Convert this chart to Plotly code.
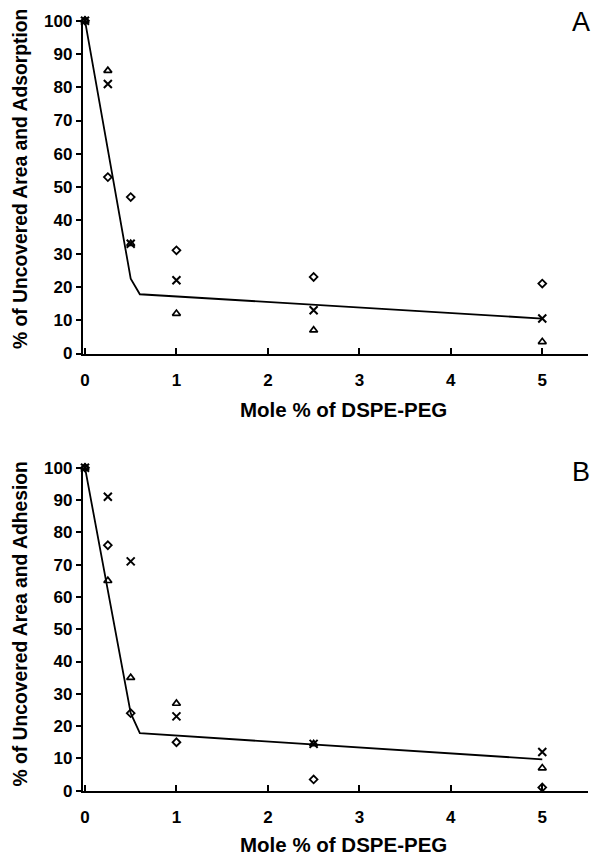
import plotly.graph_objects as go

# ---- data ----
mole_pct = [0, 0.25, 0.5, 1, 2.5, 5]

a_diamond = [100, 53, 47, 31, 23, 21]
a_cross = [100, 81, 33, 22, 13, 10.5]
a_triangle = [100, 85, 33, 12, 7, 3.5]
a_line_x = [0, 0.5, 0.6, 5]
a_line_y = [100, 22.5, 17.8, 10.5]

b_diamond = [100, 76, 24, 15, 3.5, 1]
b_cross = [100, 91, 71, 23, 14.5, 12]
b_triangle = [100, 65, 35, 27, 14.5, 7]
b_line_x = [0, 0.5, 0.6, 5]
b_line_y = [100, 24, 17.8, 9.7]

x_ticks = [0, 1, 2, 3, 4, 5]
y_ticks = list(range(0, 101, 10))

W, H = 592, 860
FONT = "Liberation Sans"


def py(p):
    return 1 - p / H


def px(p):
    return p / W


fig = go.Figure()

panels = [
    ("x", "y", a_diamond, a_cross, a_triangle, a_line_x, a_line_y),
    ("x2", "y2", b_diamond, b_cross, b_triangle, b_line_x, b_line_y),
]
for xa, ya, dia, crs, tri, lx, ly in panels:
    fig.add_trace(go.Scatter(x=lx, y=ly, mode="lines", xaxis=xa, yaxis=ya,
                             line=dict(color="black", width=1.8),
                             showlegend=False, cliponaxis=False))
    fig.add_trace(go.Scatter(x=mole_pct, y=dia, mode="markers", xaxis=xa, yaxis=ya,
                             marker=dict(symbol="diamond-open", size=6, color="black",
                                         line=dict(width=1.8)),
                             showlegend=False, cliponaxis=False))
    fig.add_trace(go.Scatter(x=mole_pct, y=crs, mode="markers", xaxis=xa, yaxis=ya,
                             marker=dict(symbol="x-thin-open", size=8, color="black",
                                         line=dict(width=2)),
                             showlegend=False, cliponaxis=False))
    fig.add_trace(go.Scatter(x=mole_pct, y=tri, mode="markers", xaxis=xa, yaxis=ya,
                             marker=dict(symbol="triangle-up-open", size=7, color="black",
                                         line=dict(width=1.7)),
                             showlegend=False, cliponaxis=False))

xdom = [px(82.7), px(588)]
ydomA = [py(353.5), py(20.7)]
ydomB = [py(790.7), py(467.7)]

tickfont = dict(family=FONT, size=17, color="black", weight="bold")

xaxis_common = dict(range=[-0.025, 5.5], tickvals=x_ticks, ticks="inside", ticklen=6,
                    tickwidth=1.5, tickcolor="black", showline=True, linecolor="black",
                    linewidth=1.8, showgrid=False, zeroline=False, tickfont=tickfont,
                    ticklabelstandoff=10, automargin=False)
yaxis_common = dict(range=[0, 100], tickvals=y_ticks, ticks="outside", ticklen=5,
                    tickwidth=1.5, tickcolor="black", showline=True, linecolor="black",
                    linewidth=1.8, showgrid=False, zeroline=False, tickfont=tickfont,
                    automargin=False)

fig.update_layout(
    width=W, height=H,
    margin=dict(l=0, r=0, t=0, b=0),
    paper_bgcolor="white", plot_bgcolor="white",
    xaxis=dict(domain=xdom, anchor="y", **xaxis_common),
    yaxis=dict(domain=ydomA, anchor="x", **yaxis_common),
    xaxis2=dict(domain=xdom, anchor="y2", **xaxis_common),
    yaxis2=dict(domain=ydomB, anchor="x2", **yaxis_common),
)

xtitle_font = dict(family=FONT, size=20.5, color="black", weight="bold")
ytitle_font = dict(family=FONT, size=19.3, color="black", weight="bold")
annotations = [
    dict(text="Mole % of DSPE-PEG", x=px(343), y=py(410), xref="paper", yref="paper",
         showarrow=False, font=xtitle_font, xanchor="center", yanchor="middle"),
    dict(text="Mole % of DSPE-PEG", x=px(343), y=py(844), xref="paper", yref="paper",
         showarrow=False, font=xtitle_font, xanchor="center", yanchor="middle"),
    dict(text="% of Uncovered Area and Adsorption", x=px(20), y=py(179), xref="paper",
         yref="paper", showarrow=False, font=ytitle_font, textangle=-90,
         xanchor="center", yanchor="middle"),
    dict(text="% of Uncovered Area and Adhesion", x=px(19.5), y=py(624), xref="paper",
         yref="paper", showarrow=False, font=ytitle_font, textangle=-90,
         xanchor="center", yanchor="middle"),
    dict(text="A", x=px(581), y=py(22), xref="paper", yref="paper", showarrow=False,
         font=dict(family=FONT, size=27, color="black"), xanchor="center", yanchor="middle"),
    dict(text="B", x=px(581), y=py(472), xref="paper", yref="paper", showarrow=False,
         font=dict(family=FONT, size=27, color="black"), xanchor="center", yanchor="middle"),
]
fig.update_layout(annotations=annotations)

# remove the default page margin so the 592x860 figure fills the window exactly
page_fix = ("document.documentElement.style.margin='0';"
            "document.body.style.margin='0';"
            "document.body.style.overflow='hidden';"
            "document.documentElement.style.overflow='hidden';")
fig.write_html("out.html", post_script=page_fix, config={"displayModeBar": False})
